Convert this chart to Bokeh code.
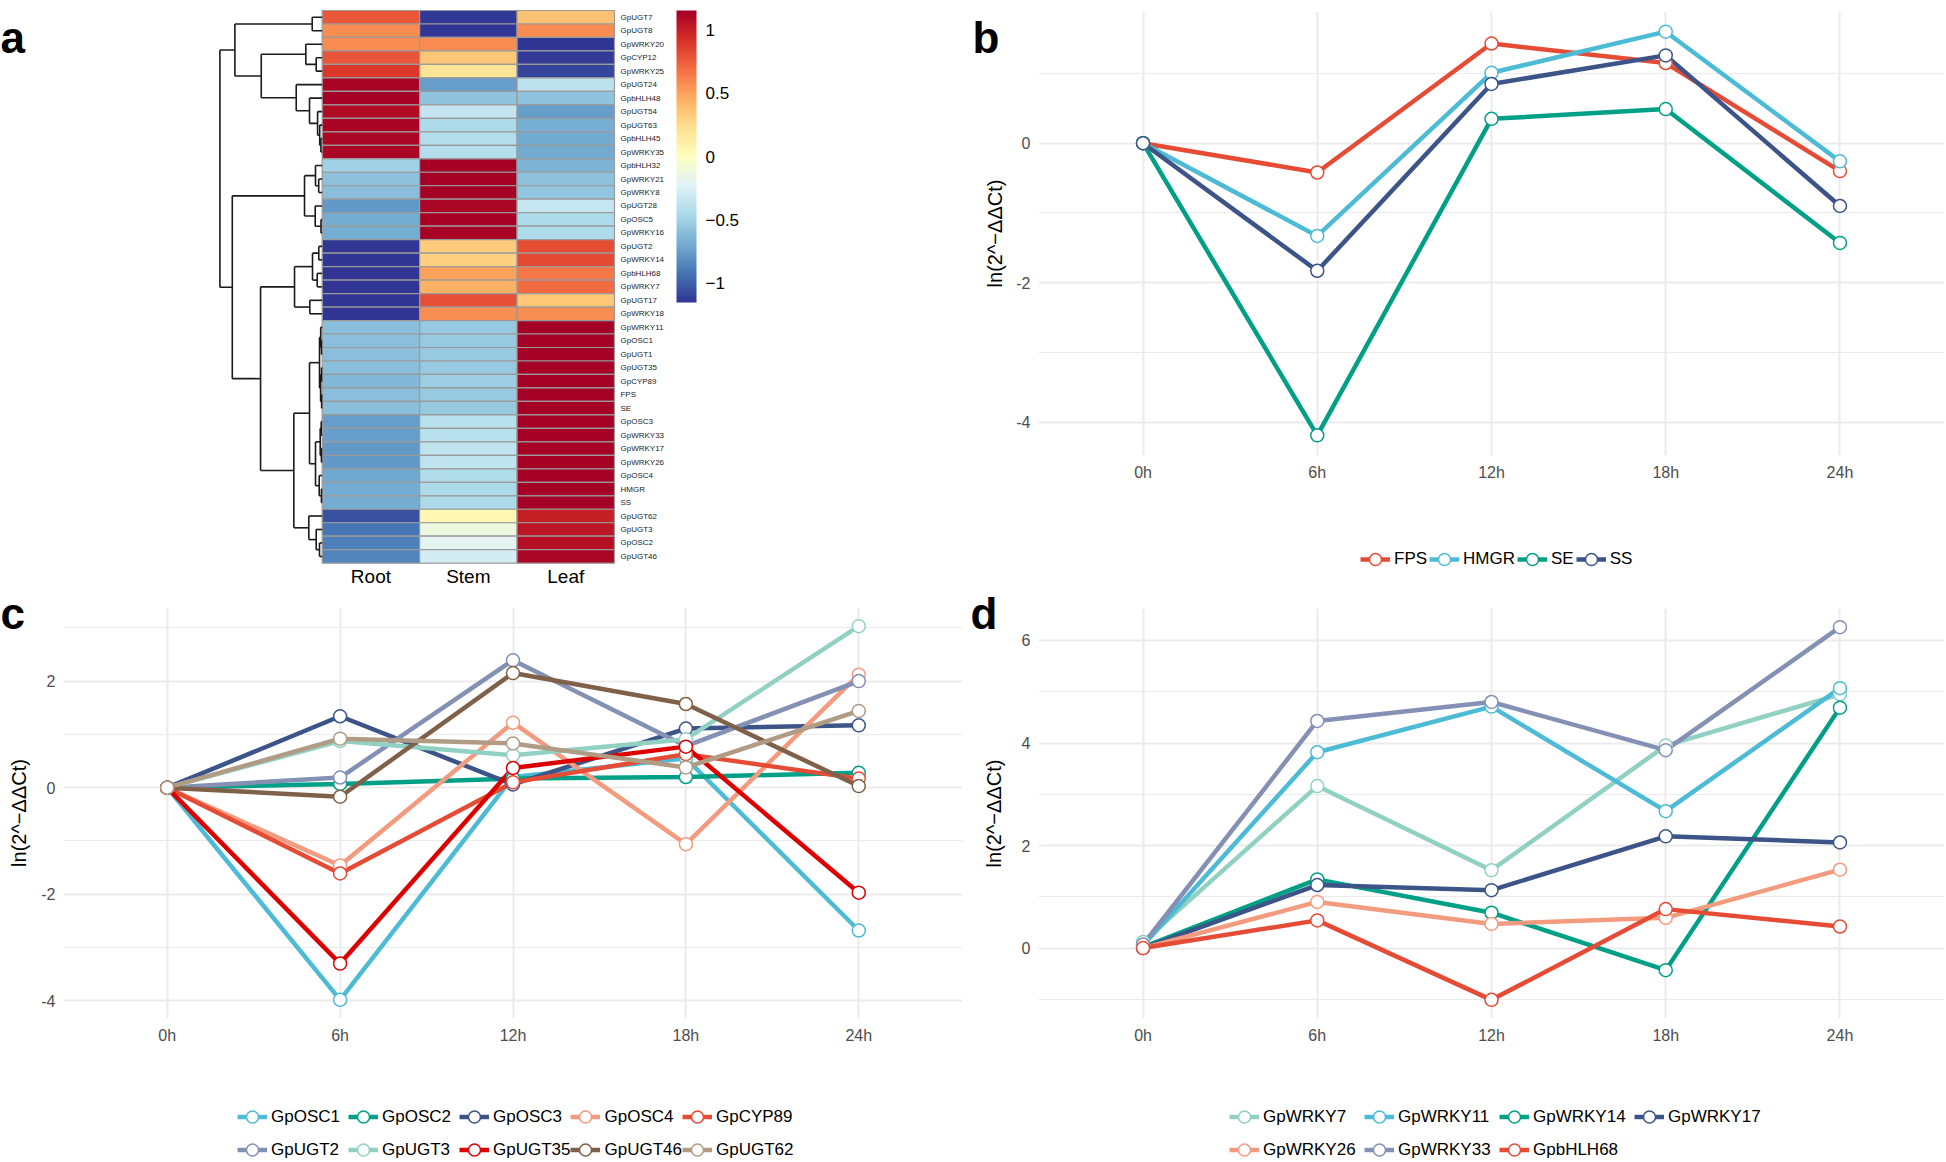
import numpy as np
from bokeh.plotting import figure
from bokeh.models import (Range1d, ColumnDataSource, LinearColorMapper, ColorBar,
                          FixedTicker, LabelSet, Legend, LegendItem)
from bokeh.layouts import column, row
from bokeh.embed import file_html
from bokeh.resources import INLINE
from bokeh.core.properties import value

FONT = "Liberation Sans"

# ---------------- panel a : heatmap data (row z-scores) ----------------
genes = ["GpUGT7", "GpUGT8", "GpWRKY20", "GpCYP12", "GpWRKY25", "GpUGT24", "GpbHLH48",
         "GpUGT54", "GpUGT63", "GpbHLH45", "GpWRKY35", "GpbHLH32", "GpWRKY21", "GpWRKY8",
         "GpUGT28", "GpOSC5", "GpWRKY16", "GpUGT2", "GpWRKY14", "GpbHLH68", "GpWRKY7",
         "GpUGT17", "GpWRKY18", "GpWRKY11", "GpOSC1", "GpUGT1", "GpUGT35", "GpCYP89",
         "FPS", "SE", "GpOSC3", "GpWRKY33", "GpWRKY17", "GpWRKY26", "GpOSC4", "HMGR", "SS",
         "GpUGT62", "GpUGT3", "GpOSC2", "GpUGT46"]
tissues = ["Root", "Stem", "Leaf"]
z_root = [0.77, 0.58, 0.58, 0.78, 0.90, 1.13, 1.155, 1.10, 1.13, 1.12, 1.12,
          -0.50, -0.58, -0.60, -0.77, -0.69, -0.69,
          -1.155, -1.15, -1.155, -1.155, -1.155, -1.155,
          -0.60, -0.60, -0.60, -0.60, -0.63, -0.60, -0.60,
          -0.75, -0.75, -0.77, -0.77, -0.71, -0.69, -0.69,
          -1.05, -0.92, -0.88, -0.85]
z_stem = [-1.14, -1.155, 0.58, 0.35, 0.20, -0.75, -0.577, -0.35, -0.45, -0.42, -0.42,
          1.15, 1.155, 1.155, 1.12, 1.14, 1.14,
          0.33, 0.30, 0.50, 0.45, 0.80, 0.577,
          -0.55, -0.55, -0.55, -0.55, -0.52, -0.55, -0.55,
          -0.40, -0.40, -0.37, -0.37, -0.44, -0.46, -0.46,
          0.05, -0.13, -0.20, -0.28]
z_leaf = [0.37, 0.58, -1.155, -1.13, -1.10, -0.38, -0.577, -0.75, -0.68, -0.70, -0.70,
          -0.65, -0.58, -0.56, -0.35, -0.45, -0.45,
          0.82, 0.83, 0.65, 0.70, 0.35, 0.577,
          1.155, 1.155, 1.155, 1.155, 1.155, 1.155, 1.155,
          1.15, 1.15, 1.14, 1.14, 1.15, 1.15, 1.15,
          1.00, 1.05, 1.08, 1.12]
colorbar_ticks = [-1, -0.5, 0, 0.5, 1]
colorbar_labels = ["\u22121", "\u22120.5", "0", "0.5", "1"]
z_limit = 1.155

# row dendrogram: [left, right, merge height]
dend_A = [0, 1, 10.0]
dend_B = [2, [3, 4, 6.0], 16.4]
dend_C = [5, [6, [7, [8, [9, 10, 1.3], 2.5], 4.6], 12.7], 26.0]
dend_top = [dend_A, [dend_B, dend_C, 61.0], 87.4]
dend_c2 = [[11, [12, 13, 3.5], 6.7], [14, [15, 16, 1.2], 7.0], 17.7]
dend_c3 = [[[17, 18, 3.4], [19, 20, 5.0], 9.7], [21, 22, 12.4], 27.7]
dend_g1 = [[23, [24, 25, 0.8], 1.5], [[26, 27, 0.7], [28, 29, 0.6], 1.6], 2.7]
dend_g2 = [[[30, 31, 1.0], [32, 33, 0.8], 2.0], [34, [35, 36, 0.8], 3.0], 6.7]
dend_c4 = [[dend_g1, dend_g2, 12.7], [37, [38, [39, 40, 2.7], 6.0], 13.4], 28.4]
dend_low = [dend_c2, [dend_c3, dend_c4, 61.7], 90.0]
dend_root = [dend_top, dend_low, 102.4]

# ---------------- line panels data ----------------
times = ["0h", "6h", "12h", "18h", "24h"]

b_names = ["FPS", "HMGR", "SE", "SS"]
b_FPS = [0, -0.42, 1.43, 1.15, -0.40]
b_HMGR = [0, -1.33, 1.01, 1.60, -0.26]
b_SE = [0, -4.19, 0.35, 0.49, -1.43]
b_SS = [0, -1.83, 0.85, 1.26, -0.90]
b_colors = ["#E64B35", "#4DBBD5", "#00A087", "#3C5488"]
b_major = [-4, -2, 0]
b_minor = [-3, -1, 1]

c_names = ["GpOSC1", "GpOSC2", "GpOSC3", "GpOSC4", "GpCYP89",
           "GpUGT2", "GpUGT3", "GpUGT35", "GpUGT46", "GpUGT62"]
c_OSC1 = [0, -3.98, 0.20, 0.55, -2.68]
c_OSC2 = [0, 0.07, 0.17, 0.20, 0.28]
c_OSC3 = [0, 1.34, 0.06, 1.11, 1.17]
c_OSC4 = [0, -1.46, 1.22, -1.06, 2.12]
c_CYP89 = [0, -1.61, 0.10, 0.63, 0.17]
c_UGT2 = [0, 0.19, 2.39, 0.78, 2.00]
c_UGT3 = [0, 0.875, 0.61, 0.91, 3.03]
c_UGT35 = [0, -3.30, 0.37, 0.77, -1.97]
c_UGT46 = [0, -0.17, 2.15, 1.57, 0.03]
c_UGT62 = [0, 0.92, 0.83, 0.38, 1.44]
c_colors = ["#4DBBD5", "#00A087", "#3C5488", "#F39B7F", "#E64B35",
            "#8491B4", "#91D1C2", "#DC0000", "#7E6148", "#B09C85"]
c_major = [-4, -2, 0, 2]
c_minor = [-3, -1, 1, 3]

d_names = ["GpWRKY7", "GpWRKY11", "GpWRKY14", "GpWRKY17", "GpWRKY26", "GpWRKY33", "GpbHLH68"]
d_WRKY7 = [0.12, 3.16, 1.52, 3.95, 4.95]
d_WRKY11 = [0.05, 3.82, 4.71, 2.67, 5.07]
d_WRKY14 = [0.02, 1.34, 0.69, -0.43, 4.69]
d_WRKY17 = [0, 1.23, 1.13, 2.18, 2.06]
d_WRKY26 = [0, 0.90, 0.47, 0.59, 1.53]
d_WRKY33 = [0.07, 4.43, 4.80, 3.86, 6.26]
d_bHLH68 = [0, 0.54, -1.01, 0.76, 0.42]
d_colors = ["#91D1C2", "#4DBBD5", "#00A087", "#3C5488", "#F39B7F", "#8491B4", "#E64B35"]
d_major = [0, 2, 4, 6]
d_minor = [-1, 1, 3, 5]

ylab = "ln(2^\u2212\u0394\u0394Ct)"

# ---------------- helpers ----------------
RDYLBU = ["#313695", "#4575B4", "#74ADD1", "#ABD9E9", "#E0F3F8", "#FFFFBF",
          "#FEE090", "#FDAE61", "#F46D43", "#D73027", "#A50026"]


def interp_palette(anchors, n):
    rgb = np.array([[int(c[i:i + 2], 16) for i in (1, 3, 5)] for c in anchors], float)
    pos = np.linspace(0, 1, len(anchors))
    out = []
    for t in np.linspace(0, 1, n):
        r, g, b = (np.interp(t, pos, rgb[:, k]) for k in range(3))
        out.append("#%02x%02x%02x" % (int(round(r)), int(round(g)), int(round(b))))
    return out


def add_letter(p, letter, x, y):
    p.text(x=[x], y=[y], text=[letter], text_font=value(FONT), text_font_size=value("44px"),
           text_font_style="bold", text_baseline="alphabetic", text_align="left",
           text_color="#000000", level="overlay")


# ---------------- layout constants (px) ----------------
LEFT_W, RIGHT_W = 965, 981
A_H = 590
C_H, LEGC_H = 460, 112
B_H, LEGB_H = 487, 93
D_H, LEGD_H = 470, 112
AC_BORDER_L, AC_BORDER_R = 63, 3
BD_BORDER_L, BD_BORDER_R = 73, 2
AXIS_B = 32

# ---------------- panel a ----------------
CELL_W, ROW_H = 97.43, 13.48
HEAT_LEFT, HEAT_TOP = 321.7, 10.0      # heatmap top-left on the page
DEND_W = 1.05                          # dendrogram width in cell widths
n_rows = len(genes)
fa_left, fa_right = AC_BORDER_L, LEFT_W - AC_BORDER_R

pa = figure(width=LEFT_W, height=A_H, output_backend="svg", toolbar_location=None,
            x_range=Range1d((fa_left - HEAT_LEFT) / CELL_W, (fa_right - HEAT_LEFT) / CELL_W),
            y_range=Range1d((A_H - HEAT_TOP) / ROW_H, -HEAT_TOP / ROW_H),
            x_axis_location=None, y_axis_location=None,
            min_border_left=AC_BORDER_L, min_border_right=AC_BORDER_R,
            min_border_top=0, min_border_bottom=0)
pa.grid.visible = False
pa.outline_line_color = None

palette = interp_palette(RDYLBU, 256)
mapper = LinearColorMapper(palette=palette, low=-z_limit, high=z_limit)

cx, cy, cz = [], [], []
for j, col in enumerate([z_root, z_stem, z_leaf]):
    for i, v in enumerate(col):
        cx.append(j + 0.5)
        cy.append(i + 0.5)
        cz.append(v)
pa.rect(x="x", y="y", width=1, height=1,
        source=ColumnDataSource(dict(x=cx, y=cy, z=cz)),
        fill_color={"field": "z", "transform": mapper},
        line_color="#9A9A9A", line_width=1.2)

hmax = dend_root[2]
sx0, sy0, sx1, sy1 = [], [], [], []


def walk(node):
    if isinstance(node, int):
        return node + 0.5, 0.0
    yl, hl = walk(node[0])
    yr, hr = walk(node[1])
    h = node[2]
    xh = -h / hmax * DEND_W
    sx0.extend([xh, xh, xh]); sy0.extend([yl, yl, yr])
    sx1.extend([xh, -hl / hmax * DEND_W, -hr / hmax * DEND_W]); sy1.extend([yr, yl, yr])
    return (yl + yr) / 2, h


walk(dend_root)
pa.segment(x0=sx0, y0=sy0, x1=sx1, y1=sy1, line_color="#1a1a1a", line_width=1.6)

gene_src = ColumnDataSource(dict(x=[3.0] * n_rows, y=[i + 0.5 for i in range(n_rows)], t=genes))
pa.add_layout(LabelSet(x="x", y="y", text="t", source=gene_src, x_offset=6,
                       text_baseline="middle", text_align="left",
                       text_font=value(FONT), text_font_size=value("8px"), text_color="#222222"))
tis_src = ColumnDataSource(dict(x=[0.5, 1.5, 2.5], y=[n_rows + 1.0] * 3, t=tissues))
pa.add_layout(LabelSet(x="x", y="y", text="t", source=tis_src, text_baseline="middle",
                       text_align="center", text_font=value(FONT), text_font_size=value("19px"),
                       text_color="#000000"))

cb = ColorBar(color_mapper=mapper, ticker=FixedTicker(ticks=colorbar_ticks),
              major_label_overrides=dict(zip(colorbar_ticks, colorbar_labels)),
              width=20, height=292, location=(676 - fa_left, A_H - 302), padding=0, margin=0,
              label_standoff=9, major_label_text_font_size="17px", major_label_text_font=FONT,
              major_label_text_color="#000000",
              major_tick_line_color=None, minor_tick_line_color=None, bar_line_color=None,
              border_line_color=None, background_fill_alpha=0)
pa.add_layout(cb)
add_letter(pa, "a", (0 - HEAT_LEFT) / CELL_W, (37 - HEAT_TOP) / ROW_H)


# ---------------- line panels ----------------
def line_panel(width, height, page_x0, page_y0, borders, series, colors, major, minor,
               y_std, letter, letter_page):
    ml, mr, mt, mb = borders
    allv = [v for s in series for v in s]
    lo, hi = min(allv), max(allv)
    pad = 0.05 * (hi - lo)
    lo, hi = lo - pad, hi + pad
    x0, x1 = -0.6, len(times) - 1 + 0.6
    p = figure(width=width, height=height, output_backend="svg", toolbar_location=None,
               x_range=Range1d(x0, x1), y_range=Range1d(lo, hi),
               min_border_left=ml, min_border_right=mr, min_border_top=mt, min_border_bottom=mb)
    p.outline_line_color = None
    xs = list(range(len(times)))
    p.xaxis.ticker = FixedTicker(ticks=xs)
    p.xaxis.major_label_overrides = dict(zip(xs, times))
    p.yaxis.ticker = FixedTicker(ticks=major, minor_ticks=minor)
    p.yaxis.major_label_overrides = {m: str(m) for m in major}
    for ax in (p.xaxis[0], p.yaxis[0]):
        ax.axis_line_color = None
        ax.major_tick_line_color = None
        ax.minor_tick_line_color = None
        ax.major_tick_out = 0
        ax.minor_tick_out = 0
        ax.major_label_text_font = FONT
        ax.major_label_text_font_size = "16px"
        ax.major_label_text_color = "#4D4D4D"
        ax.major_label_standoff = 8
    p.yaxis.axis_label = ylab
    p.yaxis.axis_label_text_font = FONT
    p.yaxis.axis_label_text_font_size = "20px"
    p.yaxis.axis_label_text_font_style = "normal"
    p.yaxis.axis_label_text_color = "#000000"
    p.yaxis.axis_label_standoff = y_std
    p.xgrid.grid_line_color = "#EBEBEB"
    p.xgrid.grid_line_width = 2
    p.ygrid.grid_line_color = "#EBEBEB"
    p.ygrid.grid_line_width = 2
    p.ygrid.minor_grid_line_color = "#EBEBEB"
    p.ygrid.minor_grid_line_width = 1.1
    for s, c in zip(series, colors):
        p.line(xs, s, line_color=c, line_width=4.5)
    for s, c in zip(series, colors):
        p.scatter(xs, s, marker="circle", size=13, fill_color="white",
                  line_color=c, line_width=1.5)
    f_left, f_top = page_x0 + ml, page_y0 + mt
    f_w, f_h = width - ml - mr, height - mt - mb
    lx = x0 + (letter_page[0] - f_left) * (x1 - x0) / f_w
    ly = hi - (letter_page[1] - f_top) * (hi - lo) / f_h
    add_letter(p, letter, lx, ly)
    return p


def legend_panel(width, height, borders, names, colors, loc, ncols, glyph_h, spacing, label_w):
    ml, mr = borders
    p = figure(width=width, height=height, output_backend="svg", toolbar_location=None,
               x_range=Range1d(0, 1), y_range=Range1d(0, 1),
               x_axis_location=None, y_axis_location=None,
               min_border_left=ml, min_border_right=mr, min_border_top=0, min_border_bottom=0)
    p.grid.visible = False
    p.outline_line_color = None
    items = []
    for n, c in zip(names, colors):
        ln = p.line([np.nan, np.nan], [np.nan, np.nan], line_color=c, line_width=4.5)
        pt = p.scatter([np.nan], [np.nan], marker="circle", size=13, fill_color="white",
                       line_color=c, line_width=1.5)
        items.append(LegendItem(label=n, renderers=[ln, pt]))
    kw = {"ncols": ncols} if ncols else {}
    leg = Legend(items=items, location=loc, orientation="horizontal",
                 glyph_width=30, glyph_height=glyph_h, label_standoff=4, spacing=spacing,
                 label_width=label_w, padding=0, margin=0, border_line_color=None,
                 background_fill_alpha=0, label_text_font=FONT, label_text_font_size="17px",
                 label_text_color="#000000", **kw)
    p.add_layout(leg)
    return p


pb = line_panel(RIGHT_W, B_H, LEFT_W, 0, (BD_BORDER_L, BD_BORDER_R, 11, AXIS_B),
                [b_FPS, b_HMGR, b_SE, b_SS], b_colors, b_major, b_minor, 7, "b", (972, 37))
lb = legend_panel(RIGHT_W, LEGB_H, (BD_BORDER_L, BD_BORDER_R), b_names, b_colors,
                  (1360 - LEFT_W - BD_BORDER_L, 6), None, 30, 2, 20)
pc = line_panel(LEFT_W, C_H, 0, A_H, (AC_BORDER_L, AC_BORDER_R, 17, AXIS_B),
                [c_OSC1, c_OSC2, c_OSC3, c_OSC4, c_CYP89, c_UGT2, c_UGT3, c_UGT35, c_UGT46, c_UGT62],
                c_colors, c_major, c_minor, 8, "c", (0, 613))
lc = legend_panel(LEFT_W, LEGC_H, (AC_BORDER_L, AC_BORDER_R), c_names, c_colors,
                  (237 - AC_BORDER_L, -4), 5, 33, 0, 77)
pd_ = line_panel(RIGHT_W, D_H, LEFT_W, B_H + LEGB_H, (BD_BORDER_L, BD_BORDER_R, 28, AXIS_B),
                 [d_WRKY7, d_WRKY11, d_WRKY14, d_WRKY17, d_WRKY26, d_WRKY33, d_bHLH68],
                 d_colors, d_major, d_minor, 14, "d", (970, 613))
ld = legend_panel(RIGHT_W, LEGD_H, (BD_BORDER_L, BD_BORDER_R), d_names, d_colors,
                  (1229 - LEFT_W - BD_BORDER_L, -4), 4, 33, 0, 101)

layout = row(column(pa, pc, lc), column(pb, lb, pd_, ld))
open("out.html", "w").write(file_html(layout, INLINE))
